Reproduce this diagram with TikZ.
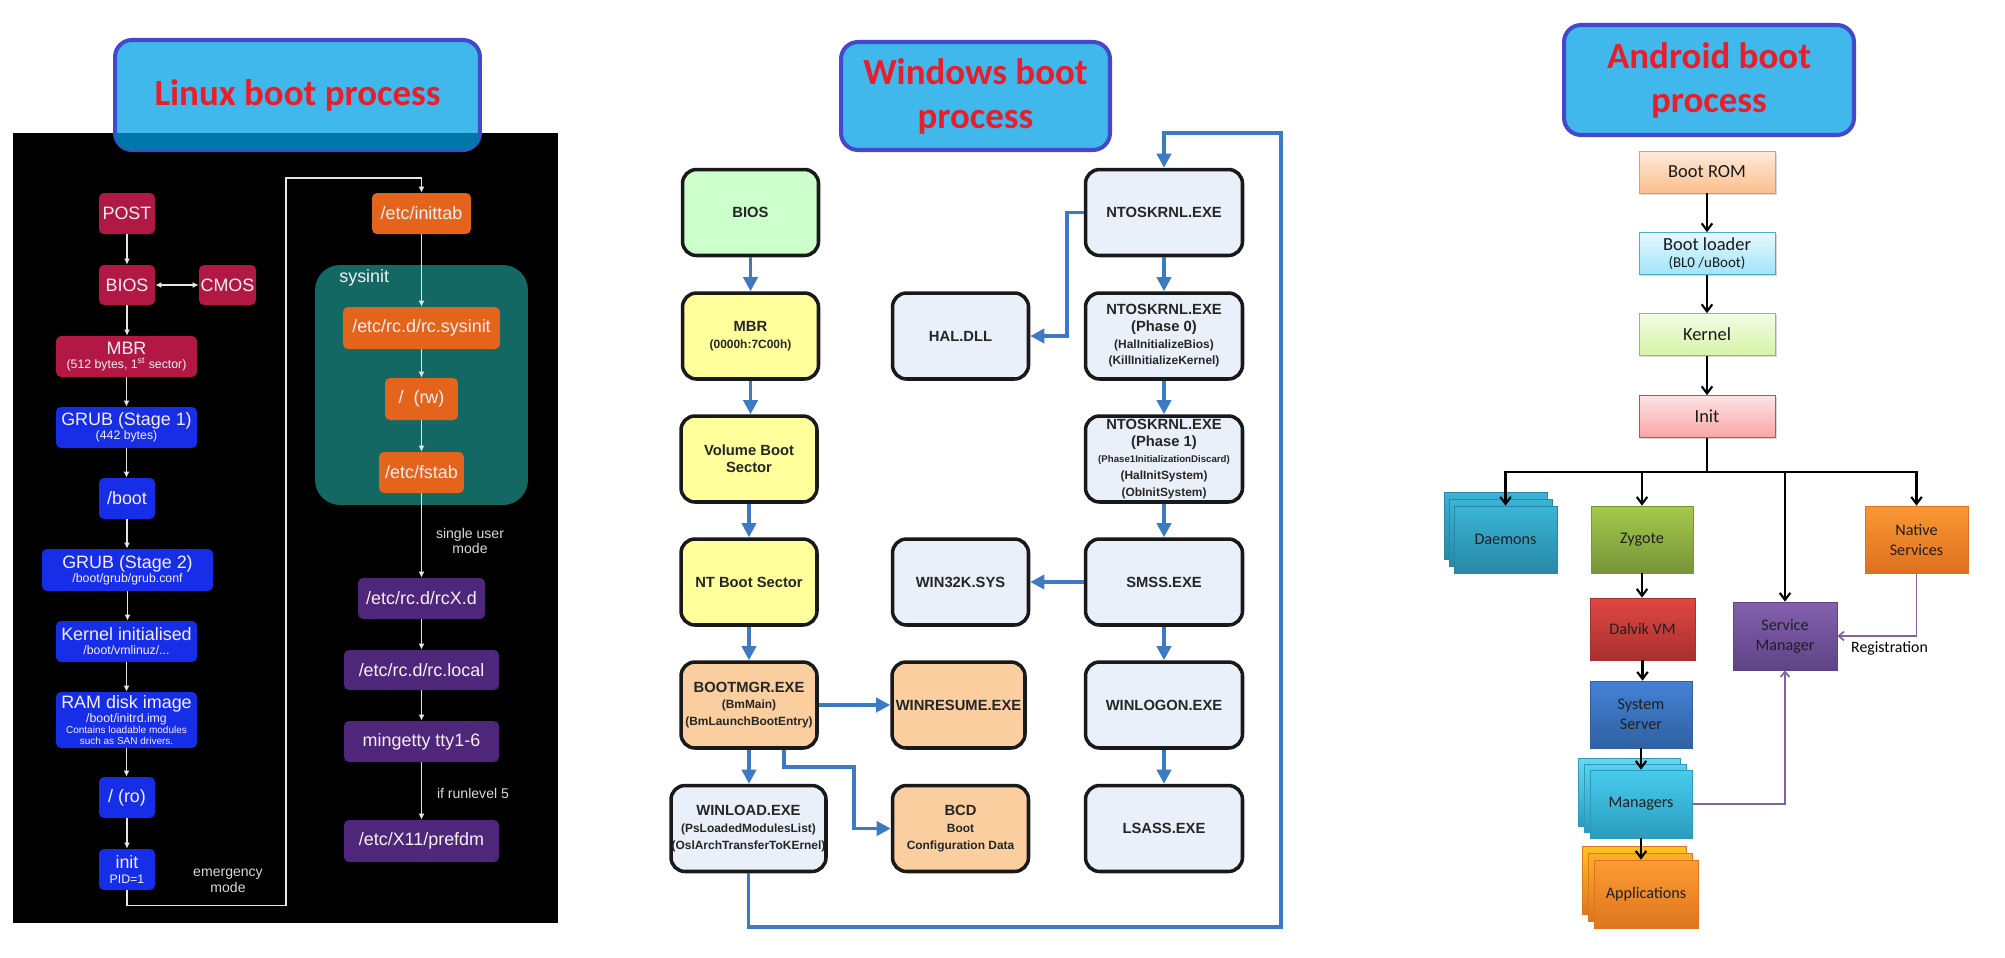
\documentclass[tikz,border=0pt]{standalone}
\usepackage{fontspec}
\setmainfont{Liberation Sans}
\newfontfamily\carlito{Carlito}
\usetikzlibrary{arrows.meta,shadows}

\definecolor{ttlfill}{RGB}{65,184,236}
\definecolor{ttldark}{RGB}{0,119,170}
\definecolor{ttlline}{RGB}{68,72,204}
\definecolor{ttltext}{RGB}{232,30,42}
\definecolor{lxred}{RGB}{178,24,68}
\definecolor{lxblue}{RGB}{22,46,232}
\definecolor{lxorange}{RGB}{228,100,28}
\definecolor{lxteal}{RGB}{20,104,100}
\definecolor{lxpurple}{RGB}{78,38,122}
\definecolor{lxtext}{RGB}{245,240,245}
\definecolor{wgreen}{RGB}{204,255,204}
\definecolor{wyellow}{RGB}{255,255,155}
\definecolor{wpeach}{RGB}{250,206,158}
\definecolor{wpale}{RGB}{234,240,250}
\definecolor{wblue}{RGB}{60,122,196}
\definecolor{apurple}{RGB}{128,100,162}
\definecolor{romtop}{RGB}{255,234,218}\definecolor{rombot}{RGB}{250,190,140}\definecolor{romline}{RGB}{247,150,70}
\definecolor{ldrtop}{RGB}{230,248,254}\definecolor{ldrbot}{RGB}{160,228,248}\definecolor{ldrline}{RGB}{75,172,198}
\definecolor{kertop}{RGB}{242,252,230}\definecolor{kerbot}{RGB}{214,244,165}\definecolor{kerline}{RGB}{155,187,89}
\definecolor{inttop}{RGB}{252,228,228}\definecolor{intbot}{RGB}{248,166,165}\definecolor{intline}{RGB}{192,80,77}
\definecolor{dmtop}{RGB}{58,180,214}\definecolor{dmbot}{RGB}{40,136,166}
\definecolor{zytop}{RGB}{164,202,74}\definecolor{zybot}{RGB}{118,148,58}
\definecolor{nattop}{RGB}{250,152,52}\definecolor{natbot}{RGB}{222,112,30}
\definecolor{smtop}{RGB}{132,96,174}\definecolor{smbot}{RGB}{94,68,134}
\definecolor{dvtop}{RGB}{224,72,68}\definecolor{dvbot}{RGB}{168,48,46}
\definecolor{sstop}{RGB}{68,130,214}\definecolor{ssbot}{RGB}{48,96,160}
\definecolor{mgtop}{RGB}{70,204,238}\definecolor{mgbot}{RGB}{44,156,190}
\definecolor{aptop}{RGB}{252,156,50}\definecolor{apbot}{RGB}{222,118,30}

\newcommand\lxsmall{\fontsize{7}{8}\selectfont}
\newcommand\lxtiny{\fontsize{5.7}{7}\selectfont}
\newcommand\wsmall{\fontsize{6.8}{8}\selectfont}
\newcommand\wtiny{\fontsize{5.5}{7}\selectfont}

\tikzset{
  ttl/.style={draw=ttlline,line width=2.3pt,fill=ttlfill,rounded corners=0.34cm,inner sep=0pt,
    text=ttltext,align=center,font=\carlito\bfseries\fontsize{21}{25}\selectfont},
  lx/.style={rounded corners=0.1cm,text=lxtext,inner sep=0pt,align=center,
    font=\fontsize{10.2}{8}\selectfont},
  lxline/.style={draw=black!10,line width=0.8pt,-{Latex[length=3.5pt,width=3.5pt]}},
  lxlbl/.style={text=black!15,align=center,font=\fontsize{8}{9}\selectfont},
  wb/.style={draw=black!90,line width=2pt,rounded corners=0.28cm,minimum width=2.72cm,
    minimum height=1.72cm,inner sep=0pt,align=center,text=black!85,
    font=\bfseries\fontsize{8.4}{9.5}\selectfont},
  warr/.style={draw=wblue,line width=2pt,-{Triangle[length=8pt,width=8pt]}},
  ab/.style={inner sep=0pt,align=center,text=black!90,minimum width=2.72cm,minimum height=0.84cm,
    font=\carlito\fontsize{10.5}{10}\selectfont,drop shadow={shadow xshift=1pt,shadow yshift=-1pt,fill=black!30}},
  acard/.style={inner sep=0pt,align=center,text=black!88,minimum width=2.06cm,minimum height=1.34cm,
    font=\carlito\fontsize{9.2}{11.4}\selectfont},
  aarr/.style={line width=1.2pt,-{Straight Barb[length=4pt,width=6pt]}},
  parr/.style={draw=apurple,line width=1pt,-{Straight Barb[length=3pt,width=5pt]}}
}

\begin{document}
\begin{tikzpicture}[x=0.02cm,y=-0.02cm]
\useasboundingbox (0,0) rectangle (2005,957);

\fill[black] (13,133) rectangle (558,923);
\node[ttl,minimum width=7.30cm,minimum height=2.20cm] (ltitle) at (297.5,95) {Linux boot process};
\begin{scope}
  \clip (13,133) rectangle (558,923);
  \fill[ttldark,rounded corners=0.3cm] ([shift={(1.2pt,-1.2pt)}]ltitle.north west)
    rectangle ([shift={(-1.2pt,1.2pt)}]ltitle.south east);
\end{scope}

\node[lx,fill=lxred,minimum width=1.12cm,minimum height=0.82cm] (post) at (127,213.5) {POST};
\node[lx,fill=lxred,minimum width=1.12cm,minimum height=0.80cm] (lbios) at (127,285) {BIOS};
\node[lx,fill=lxred,minimum width=1.14cm,minimum height=0.80cm] (cmos) at (227.5,285) {CMOS};
\node[lx,fill=lxred,minimum width=2.82cm,minimum height=0.82cm] (lmbr) at (126.5,356.5)
  {MBR\\{\lxsmall (512 bytes, 1\textsuperscript{st} sector)}};
\node[lx,fill=lxblue,minimum width=2.82cm,minimum height=0.82cm] (grubi) at (126.5,427.5)
  {GRUB (Stage 1)\\{\lxsmall (442 bytes)}};
\node[lx,fill=lxblue,minimum width=1.12cm,minimum height=0.82cm] (boot) at (127,498.5) {/boot};
\node[lx,fill=lxblue,minimum width=3.42cm,minimum height=0.84cm] (grubii) at (127.5,570)
  {GRUB (Stage 2)\\{\lxsmall /boot/grub/grub.conf}};
\node[lx,fill=lxblue,minimum width=2.82cm,minimum height=0.82cm] (lkernel) at (126.5,641.5)
  {Kernel initialised\\{\lxsmall /boot/vmlinuz/...}};
\node[lx,fill=lxblue,minimum width=2.82cm,minimum height=1.12cm] (ramdisk) at (126.5,720)
  {RAM disk image\\{\lxsmall /boot/initrd.img}\\[-1.7pt]{\lxtiny Contains loadable modules}\\[-1.7pt]{\lxtiny such as SAN drivers.}};
\node[lx,fill=lxblue,minimum width=1.12cm,minimum height=0.82cm] (ro) at (127,797.5) {/ (ro)};
\node[lx,fill=lxblue,minimum width=1.12cm,minimum height=0.82cm] (linit) at (127,869.5)
  {init\\[0.5pt]{\lxsmall PID=1}};

\node[lx,fill=lxorange,minimum width=1.98cm,minimum height=0.82cm] (inittab) at (421.5,213.5) {/etc/inittab};
\node[fill=lxteal,rounded corners=0.5cm,minimum width=4.26cm,minimum height=4.80cm] (sysbox) at (421.5,385) {};
\node[lx,anchor=west] (sysinit) at (339,278) {sysinit};
\node[lx,fill=lxorange,minimum width=3.14cm,minimum height=0.84cm] (rcsys) at (421.5,328) {/etc/rc.d/rc.sysinit};
\node[lx,fill=lxorange,minimum width=1.46cm,minimum height=0.84cm] (rw) at (421.5,399) {/\ \ (rw)};
\node[lx,fill=lxorange,minimum width=1.70cm,minimum height=0.82cm] (fstab) at (421.5,472.5) {/etc/fstab};
\node[lx,fill=lxpurple,minimum width=2.54cm,minimum height=0.82cm] (rcx) at (421.5,598.5) {/etc/rc.d/rcX.d};
\node[lx,fill=lxpurple,minimum width=3.10cm,minimum height=0.80cm] (rclocal) at (421.5,670) {/etc/rc.d/rc.local};
\node[lx,fill=lxpurple,minimum width=3.10cm,minimum height=0.82cm] (mingetty) at (421.5,741.5) {mingetty tty1-6};
\node[lx,fill=lxpurple,minimum width=3.10cm,minimum height=0.84cm] (prefdm) at (421.5,841) {/etc/X11/prefdm};
\node[lxlbl] (single) at (470,541) {single user\\mode};
\node[lxlbl] (runlvl) at (473,793) {if runlevel 5};
\node[lxlbl] (emerg) at (228,881) {emergency\\mode};

\draw[lxline] (post) -- (lbios);
\draw[lxline,{Latex[length=3.5pt,width=3.5pt]}-{Latex[length=3.5pt,width=3.5pt]}] (lbios) -- (cmos);
\draw[lxline] (lbios) -- (lbios |- lmbr.north);
\draw[lxline] (lmbr) -- (grubi);
\draw[lxline] (grubi.south) -- (grubi.south |- boot.north);
\draw[lxline] (boot) -- (boot |- grubii.north);
\draw[lxline] (grubii.south) -- (grubii.south |- lkernel.north);
\draw[lxline] (lkernel) -- (ramdisk);
\draw[lxline] (ramdisk.south) -- (ramdisk.south |- ro.north);
\draw[lxline] (ro) -- (linit);
\draw[lxline] (linit.south) -- ++(0,15) -| (286,178) -| (inittab.north);
\draw[lxline] (inittab) -- (rcsys);
\draw[lxline] (rcsys) -- (rw);
\draw[lxline] (rw) -- (fstab);
\draw[lxline] (fstab) -- (rcx);
\draw[lxline] (rcx) -- (rclocal);
\draw[lxline] (rclocal) -- (mingetty);
\draw[lxline] (mingetty) -- (prefdm);

\node[ttl,minimum width=5.38cm,minimum height=2.16cm] (wtitle) at (975.5,96) {Windows boot\\process};
\node[wb,fill=wgreen] (wbios) at (750.5,212.5) {BIOS};
\node[wb,fill=wyellow] (wmbr) at (750.5,336) {MBR\\{\wsmall (0000h:7C00h)}};
\node[wb,fill=wyellow] (vbs) at (749,459) {Volume Boot\\Sector};
\node[wb,fill=wyellow] (ntbs) at (749,582) {NT Boot Sector};
\node[wb,fill=wpeach] (bootmgr) at (749,705) {BOOTMGR.EXE\\{\wsmall (BmMain)}\\{\wsmall (BmLaunchBootEntry)}};
\node[wb,fill=wpale,minimum width=3.10cm] (winload) at (748.5,828.5)
  {WINLOAD.EXE\\{\wsmall (PsLoadedModulesList)}\\{\wsmall (OslArchTransferToKErnel)}};
\node[wb,fill=wpale] (hal) at (960.5,336) {HAL.DLL};
\node[wb,fill=wpale] (win32k) at (960.5,582) {WIN32K.SYS};
\node[wb,fill=wpeach,minimum width=2.66cm] (winresume) at (958.5,705) {WINRESUME.EXE};
\node[wb,fill=wpeach] (bcd) at (960.5,828.5) {BCD\\{\wsmall Boot}\\{\wsmall Configuration Data}};
\node[wb,fill=wpale,minimum width=3.14cm] (ntos) at (1164,212.5) {NTOSKRNL.EXE};
\node[wb,fill=wpale,minimum width=3.14cm] (ntosa) at (1164,336)
  {NTOSKRNL.EXE\\(Phase 0)\\{\wsmall (HalInitializeBios)}\\{\wsmall (KillInitializeKernel)}};
\node[wb,fill=wpale,minimum width=3.14cm] (ntosb) at (1164,459)
  {NTOSKRNL.EXE\\(Phase 1)\\{\wtiny (Phase1InitializationDiscard)}\\{\wsmall (HalInitSystem)}\\{\wsmall (ObInitSystem)}};
\node[wb,fill=wpale,minimum width=3.14cm] (smss) at (1164,582) {SMSS.EXE};
\node[wb,fill=wpale,minimum width=3.14cm] (winlogon) at (1164,705) {WINLOGON.EXE};
\node[wb,fill=wpale,minimum width=3.14cm] (lsass) at (1164,828.5) {LSASS.EXE};

\draw[warr] (wbios) -- (wmbr);
\draw[warr] (wmbr.south) -- (wmbr.south |- vbs.north);
\draw[warr] (vbs) -- (ntbs);
\draw[warr] (ntbs) -- (bootmgr);
\draw[warr] (bootmgr.south) -- (bootmgr.south |- winload.north);
\draw[warr] (bootmgr) -- (winresume);
\draw[warr] ([xshift=0.7cm]bootmgr.south) |- (854,767) |- (bcd.west);
\draw[warr] (winload.south) |- (1281,927) |- (1164,133) -- (ntos.north);
\draw[warr] (ntos.west) -| (1067,336) -- (hal.east);
\draw[warr] (ntos) -- (ntosa);
\draw[warr] (ntosa) -- (ntosb);
\draw[warr] (ntosb) -- (smss);
\draw[warr] (smss) -- (win32k);
\draw[warr] (smss) -- (winlogon);
\draw[warr] (winlogon) -- (lsass);

\node[ttl,minimum width=5.80cm,minimum height=2.20cm] (atitle) at (1709,80) {Android boot\\process};
\node[ab,top color=romtop,bottom color=rombot,draw=romline] (bootrom) at (1707,172) {Boot ROM};
\node[ab,top color=ldrtop,bottom color=ldrbot,draw=ldrline] (bootldr) at (1707,253.5)
  {Boot loader\\{\fontsize{8.5}{10}\selectfont (BL0 /uBoot)}};
\node[ab,top color=kertop,bottom color=kerbot,draw=kerline] (akernel) at (1707,334.5) {Kernel};
\node[ab,top color=inttop,bottom color=intbot,draw=intline] (ainit) at (1707,416.5) {Init};
\coordinate (bus) at (1707,472);

\path[top color=dmtop,bottom color=dmbot,draw=dmbot] (1444,492) rectangle (1547,559);
\path[top color=dmtop,bottom color=dmbot,draw=dmbot] (1449,499) rectangle (1552,566);
\node[acard,top color=dmtop,bottom color=dmbot,draw=dmbot] (daemons) at (1505.5,539.5) {Daemons};
\node[acard,minimum width=2.04cm,top color=zytop,bottom color=zybot,draw=zybot] (zygote) at (1642,539.5) {Zygote};
\node[acard,top color=nattop,bottom color=natbot,draw=natbot] (native) at (1916.5,539.5) {Native\\Services};
\node[acard,minimum width=2.08cm,minimum height=1.36cm,top color=smtop,bottom color=smbot,draw=smbot] (svcmgr) at (1785,636) {Service\\Manager};
\node[acard,minimum width=2.10cm,minimum height=1.24cm,top color=dvtop,bottom color=dvbot,draw=dvbot] (dalvik) at (1642.5,629) {Dalvik VM};
\node[acard,minimum width=2.04cm,top color=sstop,bottom color=ssbot,draw=ssbot] (sysserver) at (1641,714.5) {System\\Server};
\path[top color=mgtop!80!white,bottom color=mgbot,draw=mgbot] (1578,758) rectangle (1680,826);
\path[top color=mgtop!90!white,bottom color=mgbot,draw=mgbot] (1584,764) rectangle (1686,832);
\node[acard,minimum width=2.04cm,minimum height=1.36cm,top color=mgtop,bottom color=mgbot,draw=mgbot] (managers) at (1641,804) {Managers};
\path[top color=aptop!60!yellow,bottom color=apbot,draw=apbot] (1582,846) rectangle (1686,914);
\path[top color=aptop!80!yellow,bottom color=apbot,draw=apbot] (1588,853) rectangle (1692,921);
\node[acard,minimum width=2.08cm,minimum height=1.36cm,top color=aptop,bottom color=apbot,draw=apbot] (apps) at (1646,894) {Applications};
\node[anchor=west,font=\carlito\fontsize{9}{10}\selectfont] (reg) at (1845,648) {Registration};

\draw[aarr] (bootrom) -- (bootldr);
\draw[aarr] (bootldr) -- (akernel);
\draw[aarr] (akernel) -- (ainit);
\draw[line width=1.2pt] (ainit) -- (bus);
\draw[aarr] (bus) -| (daemons.north);
\draw[aarr] (bus) -| (zygote.north);
\draw[aarr] (bus) -| (svcmgr.north);
\draw[aarr] (bus) -| (native.north);
\draw[aarr] (zygote) -- (zygote |- dalvik.north);
\draw[aarr] (dalvik.south) -- (dalvik.south |- sysserver.north);
\draw[aarr] (sysserver) -- (managers);
\draw[aarr] (managers.south) -- (managers.south |- apps.north);
\draw[parr] (managers.east) -| (svcmgr.south);
\draw[parr] (native.south) |- (svcmgr.east);
\end{tikzpicture}
\end{document}
